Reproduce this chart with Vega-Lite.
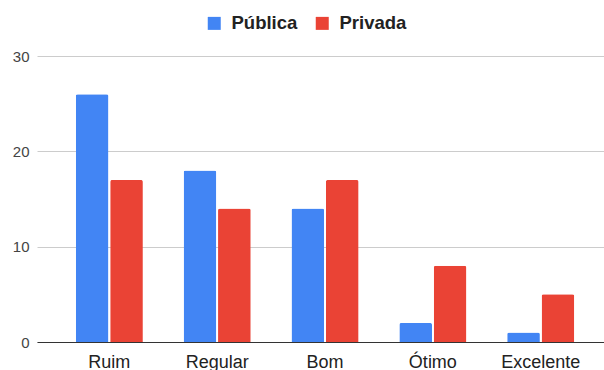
{
  "$schema": "https://vega.github.io/schema/vega-lite/v6.json",
  "width": 567,
  "height": 286,
  "autosize": {"type": "none"},
  "padding": {"left": 37, "top": 56, "right": 0, "bottom": 28},
  "background": "white",
  "data": {
    "values": [
      {"cat": "Ruim", "tipo": "Pública", "v": 26},
      {"cat": "Ruim", "tipo": "Privada", "v": 17},
      {"cat": "Regular", "tipo": "Pública", "v": 18},
      {"cat": "Regular", "tipo": "Privada", "v": 14},
      {"cat": "Bom", "tipo": "Pública", "v": 14},
      {"cat": "Bom", "tipo": "Privada", "v": 17},
      {"cat": "Ótimo", "tipo": "Pública", "v": 2},
      {"cat": "Ótimo", "tipo": "Privada", "v": 8},
      {"cat": "Excelente", "tipo": "Pública", "v": 1},
      {"cat": "Excelente", "tipo": "Privada", "v": 5}
    ]
  },
  "mark": {"type": "bar", "cornerRadiusTopLeft": 2, "cornerRadiusTopRight": 2},
  "encoding": {
    "x": {
      "field": "cat", "type": "nominal", "sort": null, "title": null,
      "scale": {"paddingInner": 0.378, "paddingOuter": 0.3176, "align": 0.566},
      "axis": {"labelAngle": 0, "labelFont": "Liberation Sans", "labelFontSize": 18, "labelColor": "#222222", "labelPadding": 11, "ticks": false, "domainColor": "#333333", "domainWidth": 1, "grid": false}
    },
    "xOffset": {"field": "tipo", "type": "nominal", "sort": ["Pública", "Privada"], "scale": {"paddingInner": 0.05, "paddingOuter": 0}},
    "y": {
      "field": "v", "type": "quantitative", "title": null,
      "scale": {"domain": [0, 30]},
      "axis": {"values": [0, 10, 20, 30], "domain": false, "ticks": false, "labelFont": "Liberation Sans", "labelFontSize": 15, "labelColor": "#444444", "labelPadding": 8, "gridColor": "#cccccc"}
    },
    "color": {
      "field": "tipo", "type": "nominal", "sort": ["Pública", "Privada"],
      "scale": {"domain": ["Pública", "Privada"], "range": ["#4285F4", "#EA4335"]},
      "legend": {"title": null, "orient": "none", "direction": "horizontal", "legendX": 168, "legendY": -42, "symbolType": "square", "symbolSize": 169, "symbolStrokeWidth": 0, "symbolOpacity": 1, "labelFont": "Liberation Sans", "labelFontSize": 18.5, "labelFontWeight": "bold", "labelColor": "#222222", "columnPadding": 15, "labelOffset": 8}
    }
  },
  "config": {"view": {"stroke": null}}
}
